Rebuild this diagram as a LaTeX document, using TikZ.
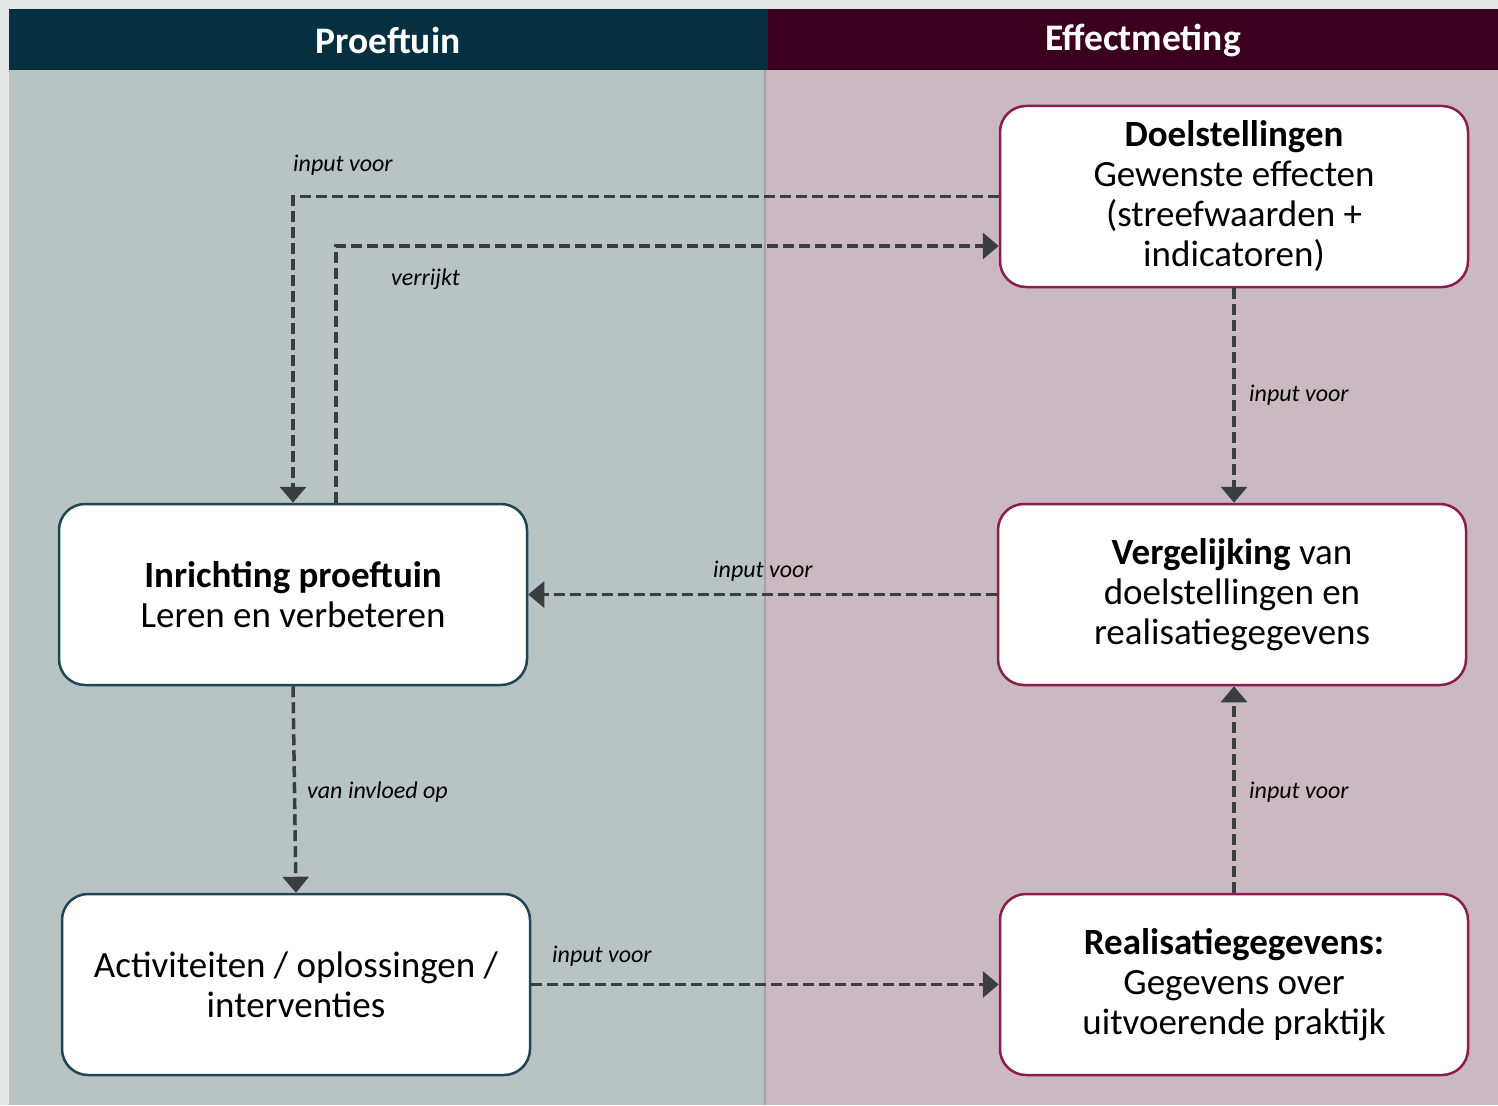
\documentclass[tikz,border=0pt]{standalone}
\usepackage{fontspec}
\setmainfont{Carlito}
\usetikzlibrary{arrows.meta,calc}
\definecolor{outerbg}{HTML}{E2E6E5}
\definecolor{lefthead}{HTML}{06303F}
\definecolor{righthead}{HTML}{3A001D}
\definecolor{leftpanel}{HTML}{B8C4C4}
\definecolor{rightpanel}{HTML}{CBB9C1}
\definecolor{leftborder}{HTML}{1F4652}
\definecolor{rightborder}{HTML}{8A1C4E}
\definecolor{arrowcol}{HTML}{3A3E42}
\definecolor{divider}{HTML}{A89CA6}
\tikzset{
  box/.style={draw, fill=white, line width=2.5pt, rounded corners=26pt,
    minimum width=468pt, minimum height=181pt, inner sep=0pt,
    align=center, font=\fontsize{37}{40}\selectfont},
  lbox/.style={box, draw=leftborder},
  rbox/.style={box, draw=rightborder},
  conn/.style={draw=arrowcol, line width=3.5pt, dash pattern=on 11pt off 5pt,
    -{Triangle[width=26pt,length=16pt]}, color=arrowcol},
  lbl/.style={anchor=west, inner sep=0pt, font=\fontsize{24}{28}\selectfont\itshape, text=black},
  head/.style={font=\fontsize{37.5}{42}\selectfont\bfseries, text=white}
}
\begin{document}
\begin{tikzpicture}[x=1pt,y=-1pt]
\useasboundingbox (0,0) rectangle (1498,1105);
\fill[outerbg] (0,0) rectangle (1498,1105);
% panels
\fill[leftpanel] (9,70) rectangle (765,1105);
\fill[rightpanel] (765,70) rectangle (1498,1105);
\draw[divider, line width=1.5pt] (765,70) -- (765,1105);
% headers
\fill[lefthead] (9,9) rectangle (768,70);
\fill[righthead] (768,9) rectangle (1498,70);
\node[head] (h1) at (388,40) {Proeftuin};
\node[head] (h2) at (1143,40) {Effectmeting};
% boxes
\node[rbox] (doel) at (1234,196.5) {\textbf{Doelstellingen}\\Gewenste effecten\\(streefwaarden +\\indicatoren)};
\node[lbox] (inr) at (293,594.5) {\textbf{Inrichting proeftuin}\\Leren en verbeteren};
\node[rbox] (verg) at (1232,594.5) {\textbf{Vergelijking} van\\doelstellingen en\\realisatiegegevens};
\node[lbox] (act) at (296,984.5) {Activiteiten / oplossingen /\\interventies};
\node[rbox] (real) at (1234,984.5) {\textbf{Realisatiegegevens:}\\Gegevens over\\uitvoerende praktijk};
% connectors
\draw[conn] (doel.west) -| (inr.north);
\draw[conn] ([xshift=43pt]inr.north) |- ([yshift=-49.5pt]doel.west);
\draw[conn] (doel.south) -- (doel.south |- verg.north);
\draw[conn] (verg.west) -- (inr.east);
\draw[conn] (inr.south) -- (act.north);
\draw[conn] (real.north) -- (real.north |- verg.south);
\draw[conn] (act.east) -- (real.west);
% labels
\node[lbl] (l1) at (293,165) {input voor};
\node[lbl] (l2) at (391,279) {verrijkt};
\node[lbl] (l3) at (1249,395) {input voor};
\node[lbl] (l4) at (713,571) {input voor};
\node[lbl] (l5) at (307,792) {van invloed op};
\node[lbl] (l6) at (1249,792) {input voor};
\node[lbl] (l7) at (552,956) {input voor};
\end{tikzpicture}
\end{document}
